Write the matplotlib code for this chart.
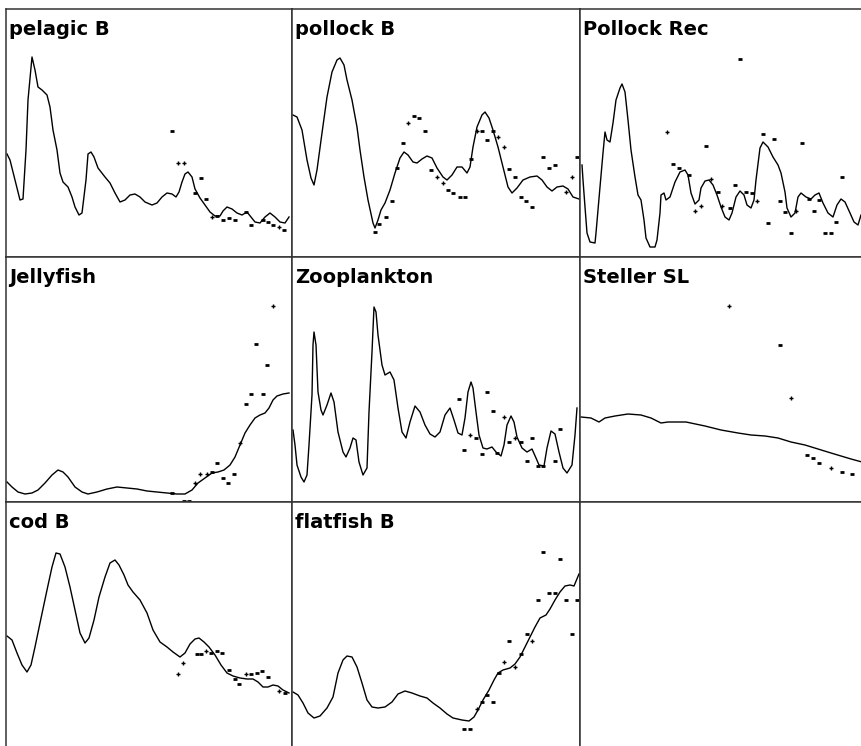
import matplotlib
matplotlib.use('Agg')
import matplotlib.pyplot as plt

pelagic_curve = [(1, 103), (4, 97), (9, 77), (14, 57), (17, 58), (20, 107), (22, 157), (26, 200), (29, 187),
                 (32, 170), (36, 167), (41, 162), (44, 150), (47, 127), (51, 107), (54, 84), (57, 75), (62, 70),
                 (66, 60), (69, 50), (73, 42), (76, 44), (80, 77), (82, 103), (85, 105), (88, 100), (92, 89),
                 (99, 80), (104, 74), (109, 64), (114, 55), (119, 57), (124, 62), (129, 63), (134, 60),
                 (139, 55), (146, 52), (151, 54), (156, 60), (161, 64), (166, 63), (170, 60), (173, 65),
                 (176, 75), (179, 83), (182, 85), (186, 80), (189, 68), (194, 59), (199, 52), (204, 45),
                 (209, 41), (214, 41), (217, 46), (221, 50), (226, 48), (231, 44), (236, 42), (241, 45),
                 (245, 40), (249, 35), (254, 34), (259, 40), (264, 44), (269, 40), (274, 35), (279, 34), (283, 40)]
pelagic_plus = [(172, 94), (178, 94), (206, 40), (273, 30)]
pelagic_dash = [(166, 126), (195, 79), (189, 64), (200, 58), (211, 41), (217, 37), (223, 39), (229, 37),
                (240, 45), (245, 32), (257, 37), (262, 35), (267, 32), (278, 27)]

pollock_curve = [(1, 142), (5, 140), (10, 127), (15, 97), (19, 79), (22, 72), (25, 87), (30, 124), (35, 160),
                 (40, 185), (45, 197), (48, 199), (52, 192), (55, 177), (60, 157), (65, 130), (68, 107),
                 (72, 80), (76, 57), (81, 34), (83, 29), (86, 37), (89, 47), (93, 54), (98, 67), (103, 84),
                 (108, 99), (112, 105), (116, 102), (121, 95), (125, 94), (130, 98), (135, 101), (140, 99),
                 (145, 89), (151, 80), (155, 77), (160, 82), (165, 90), (170, 90), (175, 84), (178, 90),
                 (181, 110), (185, 130), (190, 142), (193, 145), (197, 139), (201, 127), (206, 110),
                 (211, 90), (216, 70), (220, 64), (225, 69), (231, 77), (238, 80), (245, 81), (250, 77),
                 (255, 70), (260, 66), (265, 70), (271, 71), (276, 68), (281, 60), (287, 58)]
pollock_plus = [(116, 134), (145, 80), (151, 74), (185, 126), (206, 120), (212, 110), (280, 80), (274, 65)]
pollock_dash = [(122, 141), (127, 139), (133, 126), (111, 114), (105, 89), (100, 56), (94, 40), (87, 33),
                (83, 25), (139, 87), (156, 67), (161, 64), (168, 60), (173, 60), (179, 98), (190, 126),
                (195, 117), (201, 126), (217, 88), (223, 80), (229, 60), (234, 56), (240, 50), (251, 100),
                (257, 89), (263, 92), (285, 100)]

rec_curve = [(2, 92), (3, 77), (5, 50), (7, 24), (10, 15), (15, 14), (16, 24), (20, 70), (23, 104), (25, 125),
             (27, 117), (30, 115), (33, 134), (36, 157), (40, 169), (42, 173), (45, 165), (48, 137), (51, 107),
             (55, 80), (58, 62), (61, 57), (64, 37), (66, 19), (70, 10), (75, 10), (77, 17), (80, 44), (81, 62),
             (84, 64), (86, 57), (90, 60), (95, 75), (100, 85), (105, 87), (108, 82), (111, 64), (115, 53),
             (119, 57), (121, 69), (125, 76), (129, 77), (133, 72), (137, 62), (141, 50), (145, 40), (149, 37),
             (152, 44), (156, 60), (160, 66), (164, 62), (167, 52), (171, 49), (174, 57), (176, 77), (180, 109),
             (183, 115), (188, 110), (193, 100), (198, 92), (201, 84), (205, 65), (207, 49), (211, 40),
             (215, 44), (218, 60), (221, 64), (226, 60), (231, 58), (235, 62), (239, 64), (243, 54), (248, 44),
             (253, 40), (257, 52), (261, 58), (265, 55), (270, 44), (274, 35), (278, 32), (281, 42)]
rec_plus = [(87, 125), (115, 46), (121, 51), (131, 78), (142, 51), (177, 56), (216, 46)]
rec_dash = [(160, 198), (126, 111), (93, 93), (99, 89), (109, 82), (138, 65), (150, 49), (155, 72), (166, 65),
            (172, 64), (183, 123), (194, 118), (200, 56), (205, 45), (188, 34), (211, 24), (222, 114),
            (229, 58), (234, 46), (239, 57), (245, 24), (251, 24), (256, 35), (262, 80)]

jelly_curve = [(1, 20), (6, 15), (12, 10), (19, 8), (26, 9), (32, 12), (39, 19), (46, 27), (52, 32), (57, 30),
               (62, 25), (69, 15), (76, 10), (82, 8), (91, 10), (101, 13), (111, 15), (121, 14), (131, 13),
               (141, 11), (151, 10), (161, 9), (171, 8), (179, 8), (186, 12), (192, 19), (199, 24), (206, 29),
               (212, 30), (218, 32), (224, 37), (229, 45), (234, 57), (239, 69), (244, 77), (249, 84),
               (254, 87), (259, 89), (263, 94), (267, 102), (271, 106), (277, 108), (283, 109)]
jelly_plus = [(267, 196), (189, 19), (234, 59), (194, 28), (201, 28)]
jelly_dash = [(250, 158), (261, 137), (245, 108), (257, 108), (240, 98), (211, 39), (206, 30), (217, 24),
              (222, 19), (228, 28), (166, 9), (178, 1), (183, 1)]

zoo_curve = [(1, 72), (3, 57), (5, 37), (9, 25), (12, 20), (15, 27), (17, 57), (20, 107), (21, 157), (22, 170),
             (24, 157), (26, 110), (29, 92), (31, 87), (35, 97), (39, 109), (42, 100), (46, 70), (51, 50),
             (54, 45), (58, 54), (61, 64), (64, 62), (67, 40), (71, 27), (75, 34), (77, 90), (80, 150),
             (82, 195), (84, 190), (86, 167), (90, 137), (93, 127), (98, 130), (102, 122), (106, 94),
             (110, 70), (114, 64), (118, 80), (123, 96), (128, 90), (133, 77), (138, 68), (143, 65), (148, 70),
             (153, 87), (158, 94), (162, 82), (166, 69), (170, 67), (173, 84), (176, 110), (179, 120),
             (181, 114), (184, 90), (187, 67), (191, 54), (195, 53), (200, 55), (204, 50), (209, 46),
             (212, 57), (215, 77), (219, 86), (222, 80), (225, 65), (230, 54), (235, 50), (240, 53),
             (244, 44), (247, 37), (252, 36), (255, 54), (259, 71), (263, 68), (267, 50), (271, 34),
             (275, 29), (280, 37), (283, 67), (285, 94)]
zoo_plus = [(178, 67), (212, 85), (223, 64)]
zoo_dash = [(167, 103), (172, 52), (184, 64), (190, 48), (195, 110), (201, 91), (205, 49), (217, 60),
            (229, 60), (235, 41), (240, 64), (246, 36), (251, 36), (263, 41), (268, 73)]

steller_curve = [(1, 85), (11, 84), (19, 80), (25, 84), (35, 86), (48, 88), (61, 87), (71, 84), (81, 79),
                 (88, 80), (106, 80), (125, 76), (141, 72), (158, 69), (171, 67), (185, 66), (198, 64),
                 (211, 60), (225, 57), (238, 53), (251, 49), (261, 46), (271, 43), (282, 40)]
steller_plus = [(149, 196), (211, 104), (251, 34)]
steller_dash = [(200, 157), (227, 47), (233, 44), (239, 39), (262, 30), (272, 28)]

cod_curve = [(1, 111), (6, 107), (11, 94), (16, 82), (21, 75), (25, 82), (29, 100), (34, 124), (41, 157),
             (46, 180), (50, 194), (54, 193), (59, 180), (64, 160), (69, 137), (74, 114), (79, 104), (83, 109),
             (88, 127), (93, 150), (99, 170), (104, 184), (109, 187), (113, 182), (118, 172), (122, 162),
             (127, 155), (134, 147), (141, 134), (147, 117), (154, 105), (161, 100), (167, 95), (174, 90),
             (179, 94), (184, 103), (189, 108), (193, 109), (198, 105), (203, 100), (209, 92), (215, 82),
             (221, 74), (227, 71), (234, 69), (241, 68), (247, 68), (252, 65), (257, 60), (262, 60),
             (267, 62), (272, 61), (277, 57), (283, 54)]
cod_plus = [(172, 73), (177, 84), (200, 96), (240, 73), (273, 56)]
cod_dash = [(191, 93), (195, 93), (205, 94), (211, 96), (216, 94), (223, 77), (229, 68), (233, 63),
            (245, 73), (251, 74), (256, 76), (262, 70), (279, 54)]

flat_curve = [(1, 55), (6, 52), (11, 44), (16, 34), (22, 29), (28, 31), (35, 39), (41, 50), (46, 74),
              (51, 87), (55, 91), (60, 90), (65, 80), (70, 64), (75, 47), (80, 40), (86, 39), (93, 40),
              (100, 45), (106, 53), (113, 56), (120, 54), (128, 51), (135, 49), (141, 44), (148, 39),
              (155, 33), (161, 29), (170, 27), (177, 26), (182, 30), (186, 37), (191, 47), (197, 57),
              (202, 67), (206, 74), (211, 77), (218, 79), (223, 83), (228, 90), (233, 100), (238, 110),
              (243, 120), (248, 129), (254, 132), (258, 138), (263, 147), (268, 155), (273, 161), (278, 162),
              (282, 161), (287, 173)]
flat_plus = [(185, 38), (212, 85), (223, 80), (240, 106)]
flat_dash = [(172, 18), (178, 18), (190, 45), (195, 52), (201, 45), (207, 74), (217, 106), (229, 93),
             (235, 113), (246, 147), (251, 195), (257, 154), (263, 154), (268, 188), (274, 147), (285, 147),
             (280, 113)]

titles = ['pelagic B', 'pollock B', 'Pollock Rec', 'Jellyfish', 'Zooplankton', 'Steller SL', 'cod B', 'flatfish B']
panels = [(pelagic_curve, pelagic_plus, pelagic_dash), (pollock_curve, pollock_plus, pollock_dash),
          (rec_curve, rec_plus, rec_dash), (jelly_curve, jelly_plus, jelly_dash),
          (zoo_curve, zoo_plus, zoo_dash), (steller_curve, steller_plus, steller_dash),
          (cod_curve, cod_plus, cod_dash), (flat_curve, flat_plus, flat_dash)]

W, H = 862, 746
col_left = [6, 292, 580]
col_w = [286, 288, 287]
row_top = [9, 257, 502]
row_h = [248, 245, 245]

fig = plt.figure(figsize=(W / 100, H / 100), dpi=100)

for i in range(9):
    r, c = divmod(i, 3)
    ax = fig.add_axes([col_left[c] / W, (H - row_top[r] - row_h[r]) / H, col_w[c] / W, row_h[r] / H])
    ax.set_xlim(0, col_w[c])
    ax.set_ylim(0, row_h[r])
    ax.set_xticks([])
    ax.set_yticks([])
    for s in ax.spines.values():
        s.set_color('#333333')
        s.set_linewidth(1.1)
    if i >= len(panels):
        continue
    curve, plus, dash = panels[i]
    ax.plot([p[0] for p in curve], [p[1] for p in curve], color='black', lw=1.0)
    ax.plot([p[0] for p in plus], [p[1] for p in plus], ls='none', marker='+', ms=3.5, mew=1.0, color='black')
    ax.plot([p[0] for p in dash], [p[1] for p in dash], ls='none', marker='_', ms=3, mew=2, color='black')
    ax.annotate(titles[i], xy=(0, 1), xycoords='axes fraction', xytext=(3, -11), textcoords='offset pixels',
                ha='left', va='top', fontsize=14, fontweight='bold', family='DejaVu Sans')

fig.savefig('out.png', dpi=100)
